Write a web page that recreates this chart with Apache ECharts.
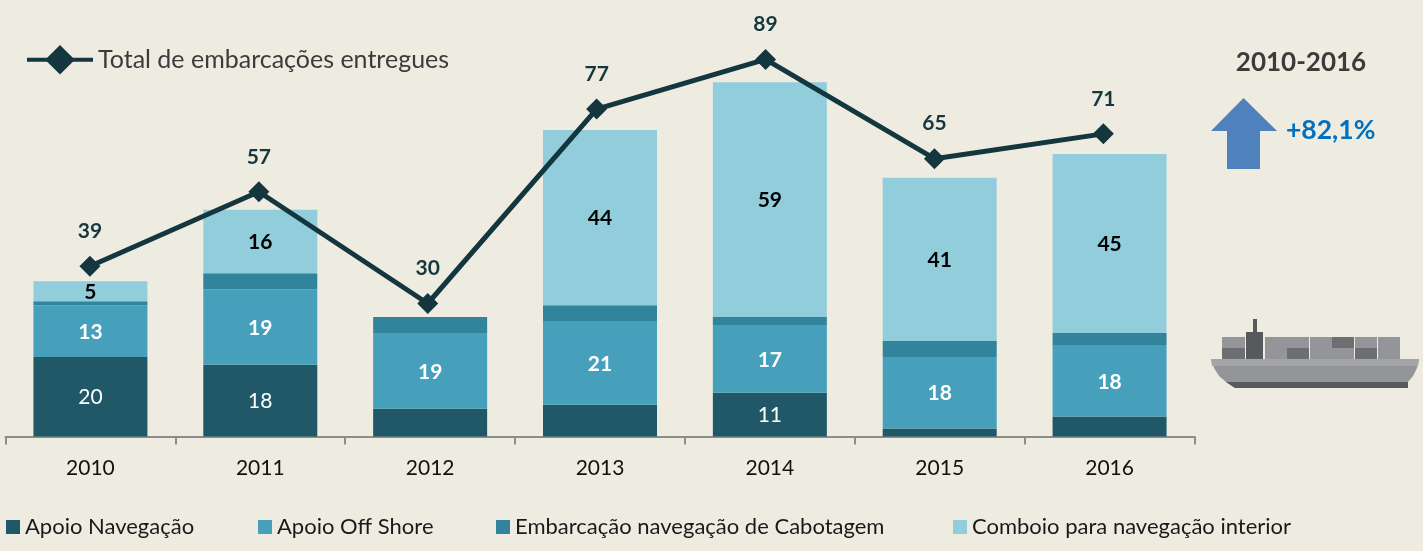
<!DOCTYPE html>
<html>
<head>
<meta charset="utf-8">
<style>html,body{margin:0;padding:0;background:#eeece1}#c{width:1423px;height:551px}</style>
<script src="https://cdn.jsdelivr.net/npm/echarts@6/dist/echarts.min.js"></script>
</head>
<body>
<div id="c"></div>
<script>
const years = ['2010','2011','2012','2013','2014','2015','2016'];
const apoioNavegacao = [20,18,7,8,11,2,5];
const apoioOffShore = [13,19,19,21,17,18,18];
const cabotagem = [1,4,4,4,2,4,3];
const comboio = [5,16,null,44,59,41,45];
const total = [39,57,30,77,89,65,71];
const FONT = 'Lato, "Open Sans", sans-serif';
const chart = echarts.init(document.getElementById('c'), null, {renderer:'canvas'});
function barSeries(name, data, color, labelColor, bold, minLabel){
  return {
    name, type:'bar', stack:'t', data, barWidth:114, xAxisIndex:0, yAxisIndex:0,
    itemStyle:{color},
    label:{show:true, position:'inside', offset:[0,1], color:labelColor, fontFamily:FONT, fontSize:21,
      fontWeight:bold?'bold':'normal',
      formatter:p=>(p.value!=null && p.value>=minLabel)?String(p.value):''}
  };
}
const grey='#6d6e71', lightGrey='#939598', dark='#58595b';
const rect=(x,y,w,h,fill)=>({type:'rect',shape:{x,y,width:w,height:h},style:{fill},silent:true});
const text=(x,y,t,size,fill,align)=>({type:'text',x,y,style:{text:t,fontFamily:FONT,fontWeight:'bold',fontSize:size,fill,align:align||'center',verticalAlign:'middle'},silent:true});
const bottomLegend=(left,name)=>({left,top:516,padding:0,itemWidth:14,itemHeight:14,data:[{name,icon:'rect'}],
  textStyle:{fontFamily:FONT,fontSize:22,color:'#1a1a1a'}});
chart.setOption({
  animation:false,
  backgroundColor:'#eeece1',
  grid:[
    {left:5.5,width:1189,top:38.5,bottom:114.5},
    {left:5.5,width:1182.3,top:38.5,bottom:114.5}
  ],
  legend:[
    {left:25,top:45,padding:0,itemWidth:66,itemHeight:37,data:['Total de embarcações entregues'],
     lineStyle:{width:4},
     textStyle:{fontFamily:FONT,fontSize:25,color:'#3b3b3b'}},
    bottomLegend(6,'Apoio Navegação'),
    bottomLegend(258,'Apoio Off Shore'),
    bottomLegend(496,'Embarcação navegação de Cabotagem'),
    bottomLegend(953,'Comboio para navegação interior')
  ],
  xAxis:[
    {type:'category',gridIndex:0,data:years,
     axisLine:{lineStyle:{color:'#8c8c8c',width:2}},
     axisTick:{show:true,length:8,alignWithLabel:false,lineStyle:{color:'#8c8c8c',width:2}},
     axisLabel:{color:'#111',fontFamily:FONT,fontSize:21,margin:21}},
    {type:'category',gridIndex:1,data:years,show:false}
  ],
  yAxis:[
    {type:'value',gridIndex:0,min:0,max:100,show:false},
    {type:'value',gridIndex:1,min:-2.15,max:94.05,show:false}
  ],
  series:[
    barSeries('Apoio Navegação',apoioNavegacao,'#215868','#ffffff',false,10),
    barSeries('Apoio Off Shore',apoioOffShore,'#46a0bb','#ffffff',true,1),
    barSeries('Embarcação navegação de Cabotagem',cabotagem,'#31849b','#ffffff',false,1000),
    barSeries('Comboio para navegação interior',comboio,'#92cddc','#000000',true,1),
    {name:'Total de embarcações entregues',type:'line',xAxisIndex:1,yAxisIndex:1,data:total,z:5,
     symbol:'diamond',symbolSize:21,showSymbol:true,
     lineStyle:{color:'#14363f',width:5},itemStyle:{color:'#14363f'},
     label:{show:true,position:'top',distance:14,color:'#17373f',fontFamily:FONT,fontSize:21,fontWeight:'bold'}}
  ],
  graphic:[
    text(1301,63,'2010-2016',26,'#3b3b3b'),
    text(1286,130,'+82,1%',26.5,'#0070c0','left'),
    {type:'polygon',shape:{points:[[1243.5,98],[1277,131],[1260,131],[1260,169],[1227,169],[1227,131],[1211,131]]},style:{fill:'#4f81bd'},silent:true},
    rect(1222,337,23,11,lightGrey), rect(1222,348,23,11,grey),
    rect(1253,319,4,14,dark), rect(1246,332,17,27,dark),
    rect(1265,337,44,22,lightGrey), rect(1287,348,22,11,grey),
    rect(1310,337,44,22,lightGrey), rect(1332,337,22,11,grey),
    rect(1355,337,22,22,lightGrey), rect(1355,348,22,11,grey),
    rect(1378,337,22,22,lightGrey),
    {type:'polygon',shape:{points:[[1211,359],[1419,359],[1417,368],[1413,376],[1408,382],[1408,388],[1235,388],[1226,382],[1219,376],[1214,368]]},style:{fill:lightGrey},silent:true},
    {type:'polygon',shape:{points:[[1211,359],[1419,359],[1418,366],[1212,366]]},style:{fill:'#a3a5a7'},silent:true},
    {type:'polygon',shape:{points:[[1226,382],[1408,382],[1408,388],[1235,388]]},style:{fill:dark},silent:true}
  ]
});
</script>
</body>
</html>
